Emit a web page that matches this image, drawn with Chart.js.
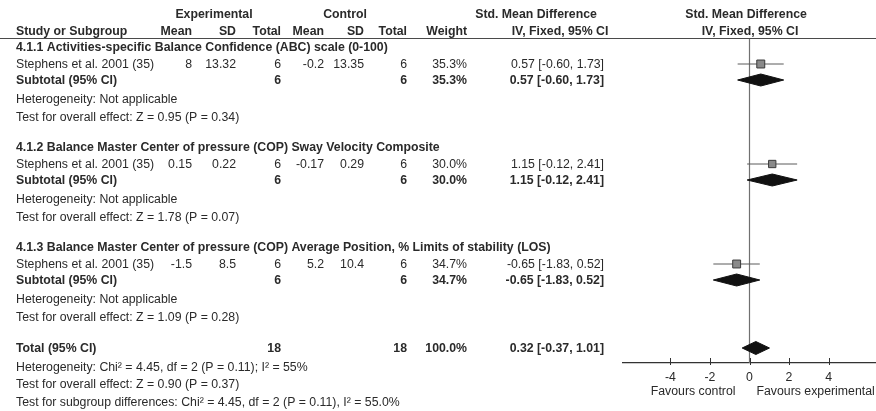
<!DOCTYPE html>
<html>
<head>
<meta charset="utf-8">
<title>Forest plot</title>
<script src="https://cdn.jsdelivr.net/npm/chart.js@4/dist/chart.umd.min.js"></script>
<style>
    html, body { margin: 0; padding: 0; background: #fff; }
    #wrap { width: 876px; height: 411px; }
</style>
</head>
<body>
<div id="wrap"><canvas id="forest" width="876" height="411"></canvas></div>
<script>
// forest plot - 4.1 balance outcomes

// Data
const groupTitles = [
    '4.1.1 Activities-specific Balance Confidence (ABC) scale (0-100)',
    '4.1.2 Balance Master Center of pressure (COP) Sway Velocity Composite',
    '4.1.3 Balance Master Center of pressure (COP) Average Position, % Limits of stability (LOS)'
];
const studyNames = ['Stephens et al. 2001 (35)', 'Stephens et al. 2001 (35)', 'Stephens et al. 2001 (35)'];
const expMean = [8, 0.15, -1.5];
const expSD = [13.32, 0.22, 8.5];
const expTotal = [6, 6, 6];
const ctlMean = [-0.2, -0.17, 5.2];
const ctlSD = [13.35, 0.29, 10.4];
const ctlTotal = [6, 6, 6];
const weights = [35.3, 30.0, 34.7];
const smd = [0.57, 1.15, -0.65];
const ciLow = [-0.60, -0.12, -1.83];
const ciHigh = [1.73, 2.41, 0.52];
const hetTexts = ['Heterogeneity: Not applicable', 'Heterogeneity: Not applicable', 'Heterogeneity: Not applicable'];
const effectTexts = [
    'Test for overall effect: Z = 0.95 (P = 0.34)',
    'Test for overall effect: Z = 1.78 (P = 0.07)',
    'Test for overall effect: Z = 1.09 (P = 0.28)'
];
const totalN = [18, 18];
const totalWeight = 100.0;
const totalSmd = 0.32;
const totalLow = -0.37;
const totalHigh = 1.01;
const footerTexts = [
    'Heterogeneity: Chi\u00b2 = 4.45, df = 2 (P = 0.11); I\u00b2 = 55%',
    'Test for overall effect: Z = 0.90 (P = 0.37)',
    'Test for subgroup differences: Chi\u00b2 = 4.45, df = 2 (P = 0.11), I\u00b2 = 55.0%'
];
const xTicks = [-4, -2, 0, 2, 4];

// Layout: vertical slots (offset below the header rule) and text columns
const groupBase = [9, 109, 209];
const OFF = { study: 17, sub: 33, het: 52, test: 70 };
const ROW = { head1: -24, head2: -7, total: 310, foot: [329, 346, 364], bottom: 325 };
const COL = { name: 16, expMean: 192, expSD: 236, expN: 281, ctlMean: 324, ctlSD: 364, ctlN: 407, weight: 467, ci: 604 };
const TEXT_NUDGE = 1;

const FONT = '"Liberation Sans", Arial, sans-serif';
const FONT_SIZE = 12.3;
const TEXT_COLOR = '#2a2a2a';

function ciText(est, lo, hi) {
    return est.toFixed(2) + ' [' + lo.toFixed(2) + ', ' + hi.toFixed(2) + ']';
}

function diamond(est, lo, hi, y, h) {
    return [
        { x: lo, y: y },
        { x: est, y: y - h },
        { x: hi, y: y },
        { x: est, y: y + h },
        { x: lo, y: y }
    ];
}

// Build datasets
const datasets = [];

// line of no effect
datasets.push({
    type: 'line',
    data: [{ x: 0, y: 0 }, { x: 0, y: ROW.bottom }],
    borderColor: '#707070',
    borderWidth: 1.2,
    pointRadius: 0,
    order: 10
});

// confidence interval whiskers
smd.forEach((v, i) => {
    const y = groupBase[i] + OFF.study;
    datasets.push({
        type: 'line',
        data: [{ x: ciLow[i], y: y }, { x: ciHigh[i], y: y }],
        borderColor: '#5a5a5a',
        borderWidth: 1,
        pointRadius: 0,
        order: 5
    });
});

// study squares, sized by weight
datasets.push({
    type: 'scatter',
    data: smd.map((v, i) => ({ x: v, y: groupBase[i] + OFF.study })),
    pointStyle: 'rect',
    pointRadius: weights.map(w => 5.6 * Math.sqrt(w / 35)),
    backgroundColor: '#8a8a8a',
    borderColor: '#3a3a3a',
    borderWidth: 1,
    order: 2
});

// subtotal diamonds
smd.forEach((v, i) => {
    datasets.push({
        type: 'line',
        data: diamond(v, ciLow[i], ciHigh[i], groupBase[i] + OFF.sub, 6),
        borderColor: '#111',
        backgroundColor: '#111',
        borderWidth: 1,
        pointRadius: 0,
        fill: 'shape',
        order: 1
    });
});

// overall diamond
datasets.push({
    type: 'line',
    data: diamond(totalSmd, totalLow, totalHigh, ROW.total, 6.5),
    borderColor: '#111',
    backgroundColor: '#111',
    borderWidth: 1,
    pointRadius: 0,
    fill: 'shape',
    order: 1
});

/**
 * Draws the table on the left, header rule, tick marks and favours labels
 */
const tablePlugin = {
    id: 'forestTable',
    afterDraw(chart) {
        const ctx = chart.ctx;
        const yScale = chart.scales.y;
        const xScale = chart.scales.x;
        const py = v => yScale.getPixelForValue(v);

        function text(str, x, y, align, bold) {
            ctx.font = (bold ? 'bold ' : '') + FONT_SIZE + 'px ' + FONT;
            ctx.textAlign = align || 'left';
            ctx.fillText(str, x, py(y) + TEXT_NUDGE);
        }

        ctx.save();
        ctx.fillStyle = TEXT_COLOR;
        ctx.textBaseline = 'middle';

        // header
        text('Experimental', 214, ROW.head1, 'center', true);
        text('Control', 345, ROW.head1, 'center', true);
        text('Std. Mean Difference', 536, ROW.head1, 'center', true);
        text('Std. Mean Difference', 746, ROW.head1, 'center', true);
        text('Study or Subgroup', COL.name, ROW.head2, 'left', true);
        text('Mean', COL.expMean, ROW.head2, 'right', true);
        text('SD', COL.expSD, ROW.head2, 'right', true);
        text('Total', COL.expN, ROW.head2, 'right', true);
        text('Mean', COL.ctlMean, ROW.head2, 'right', true);
        text('SD', COL.ctlSD, ROW.head2, 'right', true);
        text('Total', COL.ctlN, ROW.head2, 'right', true);
        text('Weight', COL.weight, ROW.head2, 'right', true);
        text('IV, Fixed, 95% CI', 560, ROW.head2, 'center', true);
        text('IV, Fixed, 95% CI', 750, ROW.head2, 'center', true);

        // header rule
        ctx.strokeStyle = '#4a4a4a';
        ctx.lineWidth = 1.2;
        ctx.beginPath();
        ctx.moveTo(0, py(0) + 0.5);
        ctx.lineTo(876, py(0) + 0.5);
        ctx.stroke();

        // subgroups
        groupTitles.forEach((title, i) => {
            const g = groupBase[i];
            text(title, COL.name, g, 'left', true);

            const ys = g + OFF.study;
            text(studyNames[i], COL.name, ys);
            text(String(expMean[i]), COL.expMean, ys, 'right');
            text(String(expSD[i]), COL.expSD, ys, 'right');
            text(String(expTotal[i]), COL.expN, ys, 'right');
            text(String(ctlMean[i]), COL.ctlMean, ys, 'right');
            text(String(ctlSD[i]), COL.ctlSD, ys, 'right');
            text(String(ctlTotal[i]), COL.ctlN, ys, 'right');
            text(weights[i].toFixed(1) + '%', COL.weight, ys, 'right');
            text(ciText(smd[i], ciLow[i], ciHigh[i]), COL.ci, ys, 'right');

            const yt = g + OFF.sub;
            text('Subtotal (95% CI)', COL.name, yt, 'left', true);
            text(String(expTotal[i]), COL.expN, yt, 'right', true);
            text(String(ctlTotal[i]), COL.ctlN, yt, 'right', true);
            text(weights[i].toFixed(1) + '%', COL.weight, yt, 'right', true);
            text(ciText(smd[i], ciLow[i], ciHigh[i]), COL.ci, yt, 'right', true);

            text(hetTexts[i], COL.name, g + OFF.het);
            text(effectTexts[i], COL.name, g + OFF.test);
        });

        // overall
        text('Total (95% CI)', COL.name, ROW.total, 'left', true);
        text(String(totalN[0]), COL.expN, ROW.total, 'right', true);
        text(String(totalN[1]), COL.ctlN, ROW.total, 'right', true);
        text(totalWeight.toFixed(1) + '%', COL.weight, ROW.total, 'right', true);
        text(ciText(totalSmd, totalLow, totalHigh), COL.ci, ROW.total, 'right', true);
        footerTexts.forEach((t, i) => text(t, COL.name, ROW.foot[i]));

        // tick marks on the axis
        const axisY = chart.chartArea.bottom;
        ctx.strokeStyle = '#333';
        ctx.lineWidth = 1;
        xTicks.forEach(t => {
            const x = Math.round(xScale.getPixelForValue(t)) + 0.5;
            ctx.beginPath();
            ctx.moveTo(x, axisY - 5);
            ctx.lineTo(x, axisY + 2);
            ctx.stroke();
        });

        // favours labels
        const zeroX = xScale.getPixelForValue(0);
        ctx.font = FONT_SIZE + 'px ' + FONT;
        ctx.textAlign = 'right';
        ctx.fillText('Favours control', zeroX - 14, axisY + 29);
        ctx.textAlign = 'left';
        ctx.fillText('Favours experimental', zeroX + 7, axisY + 29);

        ctx.restore();
    }
};

new Chart(document.getElementById('forest'), {
    type: 'scatter',
    data: { datasets: datasets },
    options: {
        responsive: false,
        animation: false,
        devicePixelRatio: 1,
        layout: { autoPadding: false, padding: { left: 623, top: 38, right: 0, bottom: 0 } },
        plugins: {
            legend: { display: false },
            tooltip: { enabled: false }
        },
        scales: {
            x: {
                type: 'linear',
                min: -6.4,
                max: 6.4,
                afterBuildTicks: scale => {
                    scale.ticks = xTicks.map(v => ({ value: v }));
                },
                afterFit: scale => {
                    scale.height = 48;
                },
                grid: { display: false, drawTicks: false },
                border: { display: true, color: '#333', width: 1.2 },
                ticks: {
                    padding: 7,
                    color: TEXT_COLOR,
                    font: { family: FONT, size: FONT_SIZE }
                }
            },
            y: {
                type: 'linear',
                display: false,
                reverse: true,
                min: 0,
                max: ROW.bottom
            }
        }
    },
    plugins: [tablePlugin]
});
</script>
</body>
</html>
